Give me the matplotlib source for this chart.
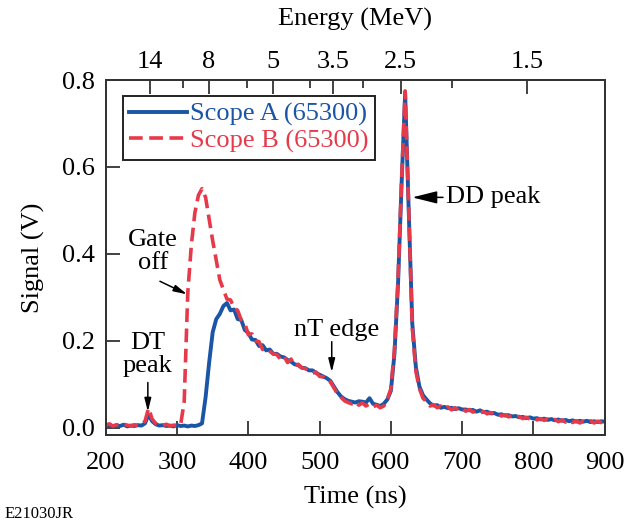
import numpy as np
import matplotlib
matplotlib.use("Agg")
import matplotlib.pyplot as plt

plt.rcParams['font.family'] = ['Liberation Serif', 'DejaVu Serif']

# time grid (ns), 5 ns steps
time_ns = np.arange(200, 905, 5)

# Scope A signal (V)
scope_a = [
    0.004, 0.006, 0.003, 0.005, 0.004, 0.007, 0.003, 0.005, 0.004, 0.006, 0.005,   # 200-250
    0.010, 0.030, 0.015, 0.008, 0.005, 0.006, 0.004, 0.005, 0.003, 0.006, 0.004,   # 255-305
    0.005, 0.003, 0.005, 0.004, 0.006, 0.010,                                       # 310-335
    0.070, 0.150, 0.220, 0.250, 0.262, 0.280, 0.287, 0.270, 0.272, 0.250, 0.248,   # 340-390
    0.225, 0.218, 0.203, 0.202, 0.188, 0.190, 0.178, 0.180, 0.170, 0.170, 0.164,   # 395-445
    0.162, 0.156, 0.152, 0.146, 0.144, 0.138, 0.137, 0.132, 0.132, 0.126, 0.122,   # 450-500
    0.118, 0.114, 0.108, 0.095, 0.082, 0.072, 0.066, 0.062, 0.060, 0.058, 0.061,   # 505-555
    0.060, 0.058, 0.068, 0.055, 0.053, 0.050, 0.055, 0.065, 0.085, 0.170, 0.330,   # 560-610
    0.560, 0.770, 0.500, 0.240, 0.140, 0.095, 0.075, 0.065,                         # 615-650
    0.056, 0.051, 0.052, 0.046, 0.048, 0.045, 0.046, 0.043, 0.045, 0.042,           # 655-700
    0.042, 0.040, 0.041, 0.037, 0.040, 0.036, 0.037, 0.033, 0.034, 0.030,           # 705-750
    0.031, 0.028, 0.029, 0.026, 0.027, 0.024, 0.025, 0.022, 0.024, 0.021,           # 755-800
    0.022, 0.019, 0.021, 0.018, 0.020, 0.017, 0.019, 0.016, 0.018, 0.015,           # 805-850
    0.017, 0.014, 0.016, 0.014, 0.016, 0.013, 0.015, 0.013, 0.015, 0.014,           # 855-900
]

# Scope B signal (V), gate off
scope_b = [
    0.006, 0.009, 0.004, 0.007, 0.005, 0.008, 0.006, 0.004, 0.007, 0.005, 0.008,   # 200-250
    0.015, 0.045, 0.020, 0.010, 0.007, 0.005, 0.008, 0.004, 0.006, 0.005, 0.007,   # 255-305
    0.060, 0.310, 0.420, 0.495, 0.535, 0.550, 0.530, 0.480, 0.430, 0.385, 0.340,   # 310-360
    0.318, 0.296, 0.294, 0.276, 0.270, 0.248, 0.240, 0.214, 0.216,                 # 365-405
    0.200, 0.198, 0.180, 0.182, 0.176, 0.170, 0.168, 0.158, 0.165, 0.150, 0.158,   # 410-460
    0.142, 0.146, 0.138, 0.136, 0.134, 0.126, 0.128, 0.118, 0.117, 0.108, 0.106,   # 465-515
    0.092, 0.078, 0.070, 0.062, 0.058, 0.055, 0.060, 0.052, 0.057, 0.050, 0.055,   # 520-570
    0.048, 0.052, 0.046, 0.050, 0.065, 0.090, 0.180, 0.340, 0.570, 0.775, 0.500,   # 575-625
    0.230, 0.130, 0.090, 0.068, 0.060,                                              # 630-650
    0.050, 0.053, 0.046, 0.050, 0.044, 0.048, 0.041, 0.046, 0.040, 0.044,           # 655-700
    0.038, 0.042, 0.036, 0.039, 0.034, 0.037, 0.032, 0.035, 0.030, 0.032,           # 705-750
    0.027, 0.030, 0.025, 0.028, 0.023, 0.026, 0.021, 0.024, 0.020, 0.023,           # 755-800
    0.018, 0.021, 0.017, 0.020, 0.016, 0.019, 0.014, 0.018, 0.013, 0.017,           # 805-850
    0.012, 0.016, 0.011, 0.015, 0.012, 0.016, 0.011, 0.015, 0.012, 0.014,           # 855-900
]

# top axis: neutron energy (MeV)
energy_major = [14, 8, 5, 3.5, 2.5, 1.5]
energy_minor = [10, 6, 4, 3, 2]
energy_labels = ["14", "8", "5", "3.5", "2.5", "1.5"]

# time of flight of a neutron with energy E (MeV)
flight_cm = 1334.0
t_offset = 3.9


def tof(e):
    return t_offset + flight_cm / (1.3833 * np.sqrt(np.asarray(e, dtype=float)))


blue = '#1b55a5'
red = '#e63a4b'
spine_c = '#333333'
fs = 19

fig = plt.figure(figsize=(6.26, 5.23), dpi=100)
ax = fig.add_axes([0.169, 0.168, 0.797, 0.679])

ax.plot(time_ns, scope_a, color=blue, lw=2.8, label='Scope A (65300)')
ax.plot(time_ns, scope_b, color=red, lw=2.6, ls=(0, (3.8, 1.8)),
        label='Scope B (65300)')

ax.set_xlim(200, 900)
ax.set_ylim(-0.017, 0.8)
ax.set_xticks([200, 300, 400, 500, 600, 700, 800, 900])
ax.set_yticks([0.0, 0.2, 0.4, 0.6, 0.8])
ax.set_yticklabels(['0.0', '0.2', '0.4', '0.6', '0.8'])
ax.tick_params(axis='both', direction='in', labelsize=fs, length=10,
               width=1.3, color=spine_c)
ax.tick_params(axis='x', top=False, pad=12)
ax.tick_params(axis='y', right=False, pad=8)
ax.set_xlabel('Time (ns)', fontsize=fs, labelpad=9)
ax.set_ylabel('Signal (V)', fontsize=fs, labelpad=12)

ax2 = ax.twiny()
ax2.set_xlim(ax.get_xlim())
ax2.set_xticks(tof(energy_major))
ax2.set_xticklabels(energy_labels)
ax2.set_xticks(tof(energy_minor), minor=True)
ax2.tick_params(axis='x', which='major', direction='in', labelsize=fs,
                length=10, width=1.3, color=spine_c, pad=5)
ax2.tick_params(axis='x', which='minor', direction='in', length=6,
                width=1.3, color=spine_c)
ax2.set_xlabel('Energy (MeV)', fontsize=fs, labelpad=18)

for a in (ax, ax2):
    for s in a.spines.values():
        s.set_color(spine_c)
        s.set_linewidth(1.4)

leg = ax.legend(loc='upper left', bbox_to_anchor=(0.034, 0.955),
                borderaxespad=0, fontsize=fs, frameon=True, fancybox=False,
                framealpha=1, handlelength=2.2, handletextpad=0.1,
                labelspacing=0.1, borderpad=0.25, labelcolor='linecolor')
leg.get_frame().set_edgecolor('#222222')
leg.get_frame().set_linewidth(1.4)

arrow = dict(arrowstyle='-|>,head_length=0.8,head_width=0.2', color='black',
             lw=1.1, shrinkA=0, shrinkB=0)

ax.annotate('DD peak', xy=(630, 0.53), xytext=(677, 0.53), fontsize=fs,
            ha='left', va='center', arrowprops=arrow)
ax.annotate('', xy=(517, 0.128), xytext=(517, 0.198), arrowprops=arrow)
ax.text(524, 0.226, 'nT edge', fontsize=fs, ha='center', va='center')
ax.annotate('', xy=(259, 0.037), xytext=(259, 0.104), arrowprops=arrow)
ax.text(259, 0.168, 'DT\npeak', fontsize=fs, ha='center', va='center',
        linespacing=1.05)
ax.annotate('', xy=(314, 0.307), xytext=(276, 0.337), arrowprops=arrow)
ax.text(266, 0.405, 'Gate\noff', fontsize=fs, ha='center', va='center',
        linespacing=1.05)

fig.text(0.008, 0.017, 'E21030JR', fontsize=12, ha='left', va='center')

fig.savefig('out.png', dpi=100)
